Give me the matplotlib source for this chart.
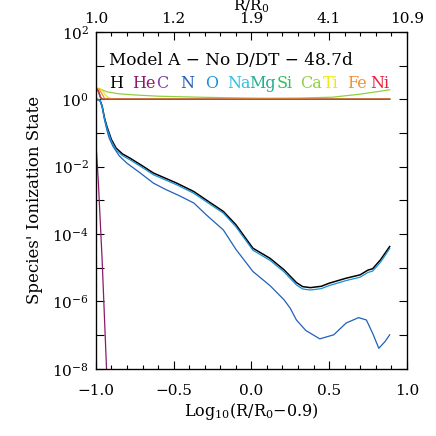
import numpy as np
import matplotlib
matplotlib.use("Agg")
import matplotlib.pyplot as plt
from matplotlib.ticker import FixedLocator, MultipleLocator, FuncFormatter

plt.rcParams['font.family'] = ['DejaVu Serif']
plt.rcParams['mathtext.fontset'] = 'dejavuserif'

# species labels and colours (legend row)
species = ['H', 'He', 'C', 'N', 'O', 'Na', 'Mg', 'Si', 'Ca', 'Ti', 'Fe', 'Ni']
colors = ['#000000', '#8b1a6b', '#7b3fa8', '#2060b8', '#1890d8', '#30c0e0',
          '#20b090', '#30c060', '#90d040', '#f0e810', '#f89030', '#e82040']

# log10 of ionization state
x_h = [-1.0, -0.975, -0.96, -0.945, -0.93, -0.915, -0.90, -0.87, -0.83, -0.78, -0.70,
       -0.63, -0.55, -0.48, -0.37, -0.29, -0.18, -0.10, 0.01, 0.12, 0.21, 0.29, 0.33,
       0.38, 0.45, 0.50, 0.61, 0.70, 0.75, 0.78, 0.83, 0.86, 0.89]
log_h = [0.0, -0.02, -0.2, -0.55, -0.8, -1.0, -1.2, -1.45, -1.62, -1.75, -1.98,
         -2.19, -2.35, -2.49, -2.74, -2.99, -3.33, -3.72, -4.42, -4.72, -5.06, -5.44, -5.56,
         -5.59, -5.55, -5.46, -5.31, -5.21, -5.07, -5.03, -4.77, -4.57, -4.37]

x_o = x_h
log_o = [0.0, -0.02, -0.22, -0.58, -0.84, -1.04, -1.25, -1.5, -1.67, -1.8, -2.03,
         -2.24, -2.4, -2.54, -2.79, -3.04, -3.38, -3.78, -4.48, -4.78, -5.12, -5.51, -5.63,
         -5.66, -5.62, -5.53, -5.38, -5.28, -5.14, -5.10, -4.84, -4.64, -4.43]

x_he = [-1.0, -0.985, -0.96, -0.93]
log_he = [-1.3, -2.4, -4.77, -8.2]

x_n = [-1.0, -0.975, -0.96, -0.945, -0.93, -0.915, -0.89, -0.85, -0.80, -0.72, -0.63,
       -0.55, -0.46, -0.37, -0.29, -0.18, -0.10, 0.01, 0.12, 0.21, 0.25, 0.29, 0.35,
       0.44, 0.53, 0.61, 0.69, 0.74, 0.78, 0.82, 0.86, 0.89]
log_n = [0.0, -0.02, -0.22, -0.6, -0.9, -1.15, -1.40, -1.68, -1.90, -2.17, -2.49,
         -2.68, -2.87, -3.08, -3.43, -3.88, -4.45, -5.11, -5.53, -5.95, -6.2, -6.55, -6.86,
         -7.11, -6.99, -6.64, -6.48, -6.55, -6.94, -7.39, -7.19, -6.99]

x_flat = [-1.0, -0.985, -0.97, -0.96, 0.89]
log_flat = [0.33, 0.25, 0.05, 0.0, 0.0]

x_ca = [-1.0, -0.97, -0.93, -0.85, -0.76, -0.6, -0.33, -0.1, 0.10, 0.3, 0.52, 0.7, 0.89]
log_ca = [0.33, 0.3, 0.22, 0.16, 0.13, 0.09, 0.06, 0.04, 0.03, 0.035, 0.06, 0.15, 0.28]

x_ti = [-1.0, -0.975, -0.95, -0.93, -0.91, -0.88, 0.89]
log_ti = [0.33, 0.32, 0.2, 0.08, 0.03, 0.0, 0.0]

x_fe = [-1.0, -0.98, -0.96, -0.945, -0.93, 0.89]
log_fe = [0.33, 0.3, 0.15, 0.03, 0.0, 0.0]

x_ni = x_flat
log_ni = log_flat

series = [(x_h, log_h), (x_he, log_he), (x_flat, log_flat), (x_n, log_n), (x_o, log_o),
          (x_flat, log_flat), (x_flat, log_flat), (x_flat, log_flat), (x_ca, log_ca),
          (x_ti, log_ti), (x_fe, log_fe), (x_ni, log_ni)]

top_ticks = [-1.0, -0.5, 0.0, 0.5, 1.0]
top_labels = ['1.0', '1.2', '1.9', '4.1', '10.9']
label_x = [0.042, 0.117, 0.194, 0.270, 0.350, 0.422, 0.494, 0.580, 0.656, 0.730, 0.807, 0.881]

fig = plt.figure(figsize=(4.36, 4.36), dpi=100)
ax = fig.add_axes([0.220, 0.154, 0.713, 0.773])

for i in range(len(species)):
    xs, ls = series[i]
    lw = 1.1 if species[i] == 'H' else 0.9
    ax.plot(xs, 10.0 ** np.array(ls), color=colors[i], lw=lw)

ax.set_yscale('log')
ax.set_xlim(-1.0, 1.0)
ax.set_ylim(1e-8, 1e2)
decades = list(range(-8, 3))
ax.yaxis.set_major_locator(FixedLocator([10.0 ** k for k in decades]))
ax.yaxis.set_minor_locator(FixedLocator([]))
ax.set_yticklabels(['$10^{%d}$' % k if k % 2 == 0 else '' for k in decades])
ax.xaxis.set_major_locator(MultipleLocator(0.5))
ax.xaxis.set_minor_locator(MultipleLocator(0.1))
ax.xaxis.set_major_formatter(FuncFormatter(lambda v, p: ('%.1f' % v).replace('-', '\u2212')))
ax.tick_params(which='both', direction='in', right=True, labelsize=11, width=0.8)
ax.tick_params(which='major', length=6)
ax.tick_params(which='minor', length=3)
ax.tick_params(axis='x', pad=11)
ax.tick_params(axis='y', pad=5)

ax.set_xlabel('Log$_{10}$(R/R$_0$\u22120.9)', fontsize=11.5, labelpad=2)
ax.set_ylabel("Species' Ionization State", fontsize=12, labelpad=7)

ax2 = ax.twiny()
ax2.set_xlim(ax.get_xlim())
ax2.set_xticks(top_ticks)
ax2.set_xticklabels(top_labels)
ax2.xaxis.set_minor_locator(MultipleLocator(0.1))
ax2.tick_params(which='both', direction='in', labelsize=11, width=0.8, pad=4)
ax2.tick_params(which='major', length=6)
ax2.tick_params(which='minor', length=3)
ax2.set_xlabel('R/R$_0$', fontsize=11, labelpad=1)

for sp in list(ax.spines.values()):
    sp.set_linewidth(0.9)

ax.text(0.042, 0.914, 'Model A \u2212 No D/DT \u2212 48.7d', transform=ax.transAxes,
        fontsize=12.2, va='center', ha='left')
for i in range(len(species)):
    ax.text(label_x[i], 0.846, species[i], color=colors[i], transform=ax.transAxes,
            fontsize=11.5, va='center', ha='left')

fig.savefig('out.png', dpi=100)
